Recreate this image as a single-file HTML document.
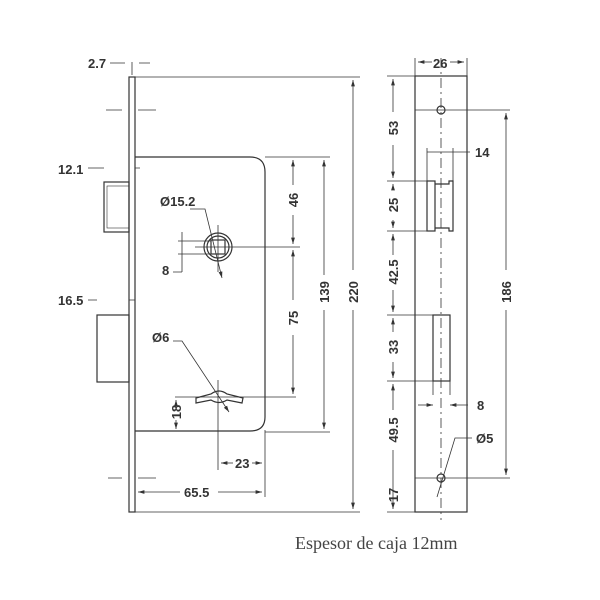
<!DOCTYPE html>
<html><head><meta charset="utf-8"><style>
html,body{margin:0;padding:0;background:#fff;}
svg{display:block}
text{font-family:"Liberation Sans",sans-serif;font-size:13px;fill:#333;font-weight:bold}
</style></head><body>
<svg width="600" height="600" viewBox="0 0 600 600" xmlns="http://www.w3.org/2000/svg">
<defs>
<marker id="a" viewBox="0 0 10 6" refX="10" refY="3" markerWidth="8" markerHeight="5" orient="auto-start-reverse"><path d="M0,0 L10,3 L0,6z" fill="#333"/></marker>
</defs>
<g stroke="#333" stroke-width="1.2" fill="none">
<rect x="129" y="77" width="6" height="435"/>
<path d="M135,157 H250 Q265,157 265,172 V417 Q265,431 250,431 H135"/>
<rect x="104" y="182" width="25" height="50"/>
<rect x="107" y="186" width="22" height="42" stroke-width="0.6"/>
<rect x="97" y="315" width="32" height="67"/>
<circle cx="218" cy="247" r="14"/>
<circle cx="218" cy="247" r="11"/>
<rect x="211" y="240" width="14" height="14"/>
<path d="M196,398 L211,394 Q219,388 227,394 L243,398 L242,403 L227,400 Q219,405 211,400 L196,403z"/>
</g>
<g stroke="#333" stroke-width="0.8" fill="none">
<path d="M106,110 H122 M138,110 H156 M108,478 H122 M138,478 H156" />
<path d="M132,62 V75" />
<path d="M195,247 H300 M218,225 V272"/>
<path d="M178,241 H211 M178,254 H211 M182,232 V272 M173,272 H182"/>
<path d="M190,209 H205 L222,278" marker-end="url(#a)"/>
<path d="M218,380 V470 M175,397 H296"/>
<path d="M173,341 H182 L229,412" marker-end="url(#a)"/>
<path d="M135,77 H360 M265,157 H330 M265,432 H330 M135,512 H360"/>
<line x1="353" y1="80" x2="353" y2="270" marker-start="url(#a)"/>
<line x1="353" y1="310" x2="353" y2="509" marker-end="url(#a)"/>
<line x1="324" y1="160" x2="324" y2="275" marker-start="url(#a)"/>
<line x1="324" y1="310" x2="324" y2="429" marker-end="url(#a)"/>
<line x1="293" y1="160" x2="293" y2="185" marker-start="url(#a)"/>
<line x1="293" y1="215" x2="293" y2="244" marker-end="url(#a)"/>
<line x1="293" y1="250" x2="293" y2="300" marker-start="url(#a)"/>
<line x1="293" y1="335" x2="293" y2="394" marker-end="url(#a)"/>
<line x1="176" y1="400" x2="176" y2="405" marker-start="url(#a)"/>
<line x1="176" y1="420" x2="176" y2="429" marker-end="url(#a)"/>
<path d="M265,430 V497"/>
<line x1="138" y1="492" x2="180" y2="492" marker-start="url(#a)"/>
<line x1="218" y1="492" x2="262" y2="492" marker-end="url(#a)"/>
<line x1="221" y1="463" x2="233" y2="463" marker-start="url(#a)"/>
<line x1="252" y1="463" x2="262" y2="463" marker-end="url(#a)"/>
<path d="M110,63 H125 M139,63 H150"/>
<path d="M88,168 H104 M135,168 H140 M88,300 H97 M129,300 H135"/>
</g>
<text x="88" y="68">2.7</text>
<text x="58" y="174">12.1</text>
<text x="58" y="305">16.5</text>
<text x="160" y="206">Ø15.2</text>
<text x="162" y="275">8</text>
<text x="152" y="342">Ø6</text>
<text x="184" y="497">65.5</text>
<text x="235" y="468">23</text>
<text transform="translate(298,200) rotate(-90)" text-anchor="middle">46</text>
<text transform="translate(298,318) rotate(-90)" text-anchor="middle">75</text>
<text transform="translate(329,292) rotate(-90)" text-anchor="middle">139</text>
<text transform="translate(358,292) rotate(-90)" text-anchor="middle">220</text>
<text transform="translate(181,412) rotate(-90)" text-anchor="middle">18</text>
<g stroke="#333" stroke-width="1.2" fill="none">
<rect x="415" y="76" width="52" height="436"/>
<circle cx="441" cy="110" r="4"/>
<circle cx="441" cy="478" r="4"/>
<rect x="427" y="181" width="8" height="50"/>
<path d="M435,184 H449 V181 H453 V231 H449 V228 H435"/>
<rect x="433" y="315" width="17" height="66"/>
</g>
<g stroke="#333" stroke-width="0.8" fill="none">
<path d="M441,58 V520" stroke-dasharray="10,4,2,4"/>
<path d="M387,76 H415 M415,110 H510 M387,181 H427 M387,231 H427 M387,315 H433 M387,381 H433 M415,478 H510 M387,512 H415"/>
<path d="M415,58 V76 M467,58 V76 M427,148 V181 M453,148 V181 M433,381 V395 M450,381 V395"/>
<line x1="418" y1="62" x2="432" y2="62" marker-start="url(#a)"/>
<line x1="450" y1="62" x2="464" y2="62" marker-end="url(#a)"/>
<line x1="427" y1="152" x2="470" y2="152"/>
<line x1="418" y1="405" x2="433" y2="405" marker-end="url(#a)"/>
<line x1="450" y1="405" x2="468" y2="405" marker-start="url(#a)"/>
<line x1="506" y1="113" x2="506" y2="270" marker-start="url(#a)"/>
<line x1="506" y1="310" x2="506" y2="475" marker-end="url(#a)"/>
<line x1="393" y1="79" x2="393" y2="112" marker-start="url(#a)"/>
<line x1="393" y1="145" x2="393" y2="178" marker-end="url(#a)"/>
<line x1="393" y1="184" x2="393" y2="190" marker-start="url(#a)"/>
<line x1="393" y1="220" x2="393" y2="228" marker-end="url(#a)"/>
<line x1="393" y1="234" x2="393" y2="255" marker-start="url(#a)"/>
<line x1="393" y1="290" x2="393" y2="312" marker-end="url(#a)"/>
<line x1="393" y1="318" x2="393" y2="332" marker-start="url(#a)"/>
<line x1="393" y1="362" x2="393" y2="378" marker-end="url(#a)"/>
<line x1="393" y1="384" x2="393" y2="410" marker-start="url(#a)"/>
<line x1="393" y1="450" x2="393" y2="509" marker-end="url(#a)"/>
<path d="M472,438 H455 L437,497"/>
</g>
<text x="433" y="68">26</text>
<text x="475" y="157">14</text>
<text x="477" y="410">8</text>
<text x="476" y="443">Ø5</text>
<text transform="translate(398,128) rotate(-90)" text-anchor="middle">53</text>
<text transform="translate(398,205) rotate(-90)" text-anchor="middle">25</text>
<text transform="translate(398,272) rotate(-90)" text-anchor="middle">42.5</text>
<text transform="translate(398,347) rotate(-90)" text-anchor="middle">33</text>
<text transform="translate(398,430) rotate(-90)" text-anchor="middle">49.5</text>
<text transform="translate(398,495) rotate(-90)" text-anchor="middle">17</text>
<text transform="translate(511,292) rotate(-90)" text-anchor="middle">186</text>
<text x="295" y="549" style="font-family:'Liberation Serif',serif;font-size:18px;font-weight:normal;fill:#444">Espesor de caja 12mm</text>
</svg>
</body></html>
